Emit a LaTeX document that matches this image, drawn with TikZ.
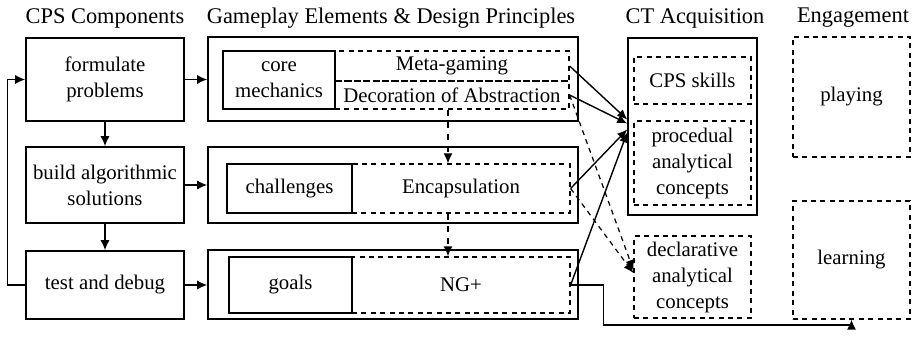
\documentclass[tikz,border=0pt]{standalone}
\usepackage{fontspec}
\setmainfont{Liberation Serif}
\usetikzlibrary{arrows.meta}
\tikzstyle{box}=[draw,line width=0.8pt,inner sep=1pt,align=center,font=\fontsize{10.4}{13}\selectfont]
\tikzstyle{dbox}=[box,line width=0.6pt,dash pattern=on 2.5pt off 2.2pt]
\tikzstyle{heading}=[font=\fontsize{11.2}{14}\selectfont]
\tikzstyle{dotarrow}=[->,line width=0.6pt,dash pattern=on 2.5pt off 2.2pt]

\begin{document}
\begin{tikzpicture}[x=0.5pt,y=-0.5pt,>={Latex[length=5pt,width=4.5pt]},line width=0.7pt]
      \useasboundingbox (0,0) rectangle (916,338);

      % column headings
      \node[heading] (h1) at (105,18) {CPS Components};
      \node[heading] (h2) at (391,18) {Gameplay Elements \& Design Principles};
      \node[heading] (h3) at (695,18) {CT Acquisition};
      \node[heading] (h4) at (853,18) {Engagement};

      % CPS components
      \node[box, minimum width=79pt, minimum height=41.5pt] (fp) at (105,79.5) {formulate\\problems};
      \node[box, minimum width=79pt, minimum height=38pt] (bas) at (105,185) {build algorithmic\\solutions};
      \node[box, minimum width=79pt, minimum height=34pt] (td) at (105,285) {test and debug};
      \draw[->] (fp) -- (bas);
      \draw[->] (bas) -- (td);
      \draw[->] (td.west) -- ++(-18,0) |- (fp.west);

      % gameplay elements
      \node[box, minimum width=185pt, minimum height=42pt] (g1) at (393,79) {};
      \node[box, minimum width=185pt, minimum height=38pt] (g2) at (393,185) {};
      \node[box, minimum width=185pt, minimum height=34.5pt] (g3) at (393,284.5) {};
      \draw[->] (fp.east) -- (fp.east -| g1.west);
      \draw[->] (bas.east) -- (bas.east -| g2.west);
      \draw[->] (td.east) -- (td.east -| g3.west);

      \node[box, minimum width=56pt, minimum height=29pt] (cm) at (279,80) {core\\mechanics};
      \node[dbox, minimum width=117pt, minimum height=15pt] (mg) at (452,66) {Meta-gaming};
      \node[dbox, minimum width=117pt, minimum height=14pt] (da) at (452,95) {Decoration of Abstraction};

      \node[box, minimum width=62.5pt, minimum height=24.5pt] (ch) at (289.5,188.5) {challenges};
      \node[dbox, minimum width=109pt, minimum height=24.5pt] (en) at (461,188.5) {Encapsulation};

      \node[box, minimum width=61.5pt, minimum height=28pt] (go) at (290.5,285) {goals};
      \node[dbox, minimum width=109pt, minimum height=28pt] (ng) at (461,285) {NG+};

      % design principles chain
      \draw[->, dashed] ([xshift=-2pt]da.south) -- ([xshift=-2pt]da.south |- en.north);
      \draw[->, dashed] ([xshift=-6.5pt]en.south) -- ([xshift=-6.5pt]en.south |- ng.north);

      % CT acquisition
      \node[box, minimum width=64.5pt, minimum height=88.5pt] (ct) at (692.5,126.5) {};
      \node[dbox, minimum width=58.5pt, minimum height=23.5pt] (cps) at (692.5,80.5) {CPS skills};
      \node[dbox, minimum width=58.5pt, minimum height=42pt] (pac) at (692.5,163) {procedual\\analytical\\concepts};
      \node[dbox, minimum width=58.5pt, minimum height=41pt] (dac) at (692.5,277) {declarative\\analytical\\concepts};

      % engagement
      \node[dbox, minimum width=58.5pt, minimum height=60pt] (play) at (851.5,97) {playing};
      \node[dbox, minimum width=58.5pt, minimum height=59pt] (learn) at (851.5,260) {learning};

      \draw[->] (mg.east) -- ([yshift=3.5pt]ct.west);
      \draw[->] (da.east) -- ([yshift=1.5pt]ct.west);
      \draw[->] (en.east) -- ([yshift=-1.5pt]ct.west);
      \draw[->] (ng.east) -- ([yshift=-3pt]ct.west);
      \draw[dotarrow] (da.east) -- ([yshift=3.5pt]dac.west);
      \draw[dotarrow] (en.east) -- ([yshift=2pt]dac.west);
      \draw[->] (ng.east) -- ++(33,0) -- ++(0,40) -| (learn.south);
    \end{tikzpicture}
\end{document}
